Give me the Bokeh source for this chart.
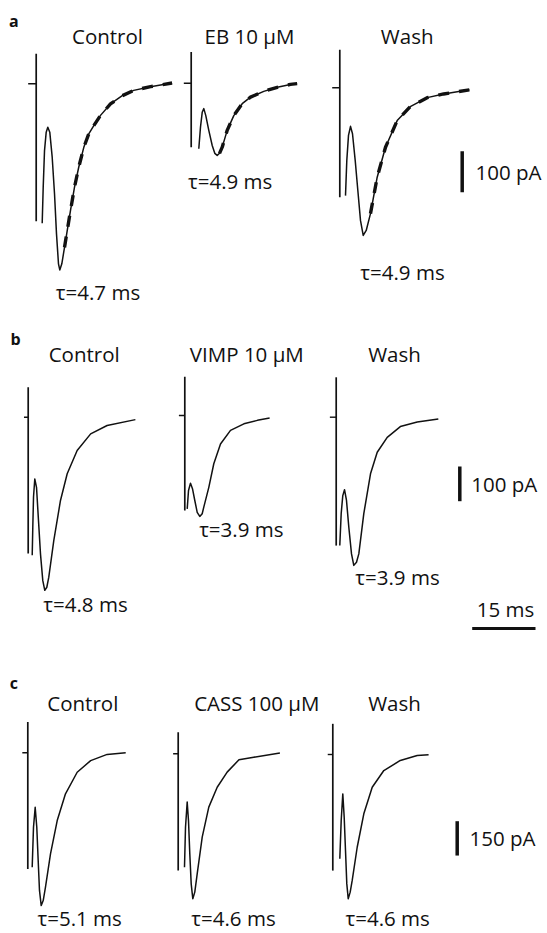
from bokeh.plotting import figure
from bokeh.models import Range1d, ColumnDataSource
from bokeh.embed import file_html
from bokeh.resources import INLINE
from bokeh.core.properties import value

# ---------------- data (time in ms after stimulus, current in pA) ----------------
A_CTRL_T = [1.42, 1.66, 1.97, 2.37, 2.75, 3.22, 3.79, 4.34, 4.81, 5.28, 5.59, 6.07, 6.71, 7.35, 8.13,
            9.08, 10.09, 11.28, 12.46, 13.65, 15.24, 17.6, 20.4, 23.1, 27.1, 32.2]
A_CTRL_I = [-340, -252, -163, -118, -106, -118, -179, -268, -366, -439, -454, -439, -399, -358, -309,
            -252, -203, -155, -122, -102, -77, -49, -29, -16, -7, 2]
A_EB_T = [1.80, 2.20, 2.61, 2.99, 3.46, 4.17, 4.98, 5.59, 6.16, 6.71, 7.35, 8.53, 10.09, 12.09, 14.05,
          17.2, 20.4, 23.5, 25.1]
A_EB_I = [-160, -107, -71, -62, -79, -115, -152, -171, -176, -171, -156, -115, -79, -50, -34,
          -20, -10, -3, -1]
A_WASH_T = [1.35, 1.66, 2.06, 2.54, 3.01, 3.65, 4.27, 4.91, 5.55, 6.26, 7.27, 8.86, 10.83, 13.6, 16.7,
            20.7, 24.6, 30.7]
A_WASH_I = [-263, -177, -116, -94, -112, -177, -250, -324, -360, -348, -307, -218, -145, -80, -46,
            -24, -15, -5]

B_CTRL_T = [0.95, 1.09, 1.26, 1.56, 1.97, 2.44, 2.91, 3.46, 3.93, 4.41, 4.88, 6.07, 7.65, 9.24, 11.6,
            14.8, 18.7, 25.4]
B_CTRL_I = [-398, -317, -230, -178, -202, -298, -394, -471, -499, -490, -461, -355, -240, -163, -96,
            -48, -24, -7]
B_VIMP_T = [0.57, 0.88, 1.35, 1.82, 2.37, 2.94, 3.55, 4.12, 4.50, 5.69, 6.87, 8.46, 10.83, 14.0, 17.2, 20.1]
B_VIMP_I = [-269, -216, -195, -211, -245, -279, -291, -283, -264, -207, -139, -82, -43, -24, -14, -7]
B_WASH_T = [0.85, 1.18, 1.56, 1.97, 2.44, 2.99, 3.63, 4.17, 4.81, 5.36, 6.54, 8.13, 9.72, 12.09, 15.2,
            19.2, 24.2]
B_WASH_I = [-370, -278, -226, -209, -240, -317, -394, -427, -418, -394, -278, -163, -101, -58, -27,
            -14, -5]

C_CTRL_T = [1.04, 1.35, 1.75, 2.13, 2.46, 2.77, 3.18, 3.65, 4.19, 5.38, 6.97, 8.93, 11.7, 14.9, 18.8, 23.2]
C_CTRL_I = [-500, -325, -238, -325, -470, -601, -667, -645, -587, -441, -296, -179, -85, -34, -7, 0]
C_CASS_T = [1.49, 1.73, 2.13, 2.44, 2.75, 3.08, 3.46, 3.93, 4.50, 5.69, 7.25, 9.24, 11.6, 14.4, 17.9, 24.1]
C_CASS_I = [-495, -321, -211, -291, -437, -568, -633, -604, -524, -364, -233, -146, -80, -26, -15, 3]
C_WASH_T = [1.66, 1.99, 2.37, 2.70, 3.01, 3.32, 3.65, 4.12, 4.60, 5.78, 7.35, 9.34, 12.09, 16.0, 20.0, 22.7]
C_WASH_I = [-455, -288, -172, -274, -419, -565, -630, -601, -550, -405, -259, -143, -70, -26, -4, -1]

# stimulus artefact extent (pA: top, bottom) and pre-stimulus baseline (ms)
ARTEFACTS = [[73, -335], [76, -156], [93, -267],
             [86, -393], [112, -274], [115, -370],
             [134, -507], [94, -510], [134, -507]]
PRE_BASE = [1.9, 1.75, 1.8, 1.0, 1.4, 1.5, 1.3, 1.2, 1.2]

TITLES = ["Control", "EB 10 μM", "Wash",
          "Control", "VIMP 10 μM", "Wash",
          "Control", "CASS 100 μM", "Wash"]
TAUS = ["τ=4.7 ms", "τ=4.9 ms", "τ=4.9 ms",
        "τ=4.8 ms", "τ=3.9 ms", "τ=3.9 ms",
        "τ=5.1 ms", "τ=4.6 ms", "τ=4.6 ms"]
PANEL_LETTERS = ["a", "b", "c"]
SCALE_PA = [100, 100, 150]
SCALE_MS = 15

TRACES = [(A_CTRL_T, A_CTRL_I), (A_EB_T, A_EB_I), (A_WASH_T, A_WASH_I),
          (B_CTRL_T, B_CTRL_I), (B_VIMP_T, B_VIMP_I), (B_WASH_T, B_WASH_I),
          (C_CTRL_T, C_CTRL_I), (C_CASS_T, C_CASS_I), (C_WASH_T, C_WASH_I)]

# ---------------- layout (pixels) ----------------
W, H = 547, 933
KX = 4.22                        # px per ms
KY = [0.41, 0.347, 0.229]        # px per pA, per panel
ORIGINS = [(35.7, 83.3), (190.7, 82.7), (339.3, 87.3),
           (27.7, 416.7), (184.3, 415.0), (335.7, 416.7),
           (27.3, 752.3), (177.7, 753.3), (332.3, 754.0)]
FIT_FROM = [12, 9, 10]           # panel a: index where fitted decay overlay starts
TITLE_POS = [(107, 35), (249, 35), (406.7, 35),
             (83.7, 353), (246.3, 353), (394, 353),
             (82.3, 702.5), (256.3, 702), (394, 702)]
TAU_POS = [(97.5, 291.7), (229.7, 180), (402, 271.7),
           (85, 603.3), (240.8, 528.3), (397, 576.7),
           (79.2, 917), (233, 917), (387.2, 917)]
LETTER_POS = [(13.3, 20), (15, 338), (13.3, 682)]
VBAR_POS = [(461.7, 150.7), (459.3, 466.0), (456.7, 820.7)]
VBAR_LABEL_X = [475, 470.7, 469]
HBAR_POS = (471.7, 628)
HBAR_LABEL = (505, 608)

FONT = "Open Sans"
FS = "20.5px"
INK = "#111111"

p = figure(width=W, height=H, x_range=Range1d(0, W), y_range=Range1d(H, 0),
           output_backend="svg", toolbar_location=None, min_border=0,
           x_axis_location=None, y_axis_location=None)
p.grid.visible = False
p.outline_line_color = None
p.background_fill_color = "white"
p.border_fill_color = "white"

for k, (tt, ii) in enumerate(TRACES):
    panel = k // 3
    ky = KY[panel]
    x0, y0 = ORIGINS[k]
    xs = [x0 + t * KX for t in tt]
    ys = [y0 - v * ky for v in ii]
    src = ColumnDataSource(dict(x=xs, y=ys))
    p.line("x", "y", source=src, line_color=INK, line_width=1.5, line_join="round")
    # stimulus artefact
    top, bot = ARTEFACTS[k]
    p.segment(x0=[x0], y0=[y0 - top * ky], x1=[x0], y1=[y0 - bot * ky],
              line_color=INK, line_width=1.7)
    # pre-stimulus baseline
    p.segment(x0=[x0 - PRE_BASE[k] * KX], y0=[y0], x1=[x0], y1=[y0],
              line_color=INK, line_width=1.4)
    # fitted exponential overlay (panel a)
    if panel == 0:
        f = FIT_FROM[k % 3]
        p.line(xs[f:], ys[f:], line_color=INK, line_width=3.4, line_dash="11 10")

# titles and tau labels
p.text(x=[q[0] for q in TITLE_POS], y=[q[1] for q in TITLE_POS], text=TITLES,
       text_font=value(FONT), text_font_size=FS, text_color=INK,
       text_align="center", text_baseline="middle")
p.text(x=[q[0] for q in TAU_POS], y=[q[1] for q in TAU_POS], text=TAUS,
       text_font=value(FONT), text_font_size=FS, text_color=INK,
       text_align="center", text_baseline="middle")
p.text(x=[q[0] for q in LETTER_POS], y=[q[1] for q in LETTER_POS], text=PANEL_LETTERS,
       text_font=value(FONT), text_font_size="16px", text_font_style="bold", text_color=INK,
       text_align="center", text_baseline="middle")

# vertical scale bars
for j in range(3):
    bx, by = VBAR_POS[j]
    length = SCALE_PA[j] * KY[j]
    p.segment(x0=[bx], y0=[by], x1=[bx], y1=[by + length], line_color=INK, line_width=3.5)
    p.text(x=[VBAR_LABEL_X[j]], y=[by + length / 2], text=[f"{SCALE_PA[j]} pA"],
           text_font=value(FONT), text_font_size=FS, text_color=INK,
           text_align="left", text_baseline="middle")

# time scale bar
hx, hy = HBAR_POS
p.segment(x0=[hx], y0=[hy], x1=[hx + SCALE_MS * KX], y1=[hy], line_color=INK, line_width=3)
p.text(x=[HBAR_LABEL[0]], y=[HBAR_LABEL[1]], text=[f"{SCALE_MS} ms"],
       text_font=value(FONT), text_font_size=FS, text_color=INK,
       text_align="center", text_baseline="middle")

open("out.html", "w").write(file_html(p, INLINE))
